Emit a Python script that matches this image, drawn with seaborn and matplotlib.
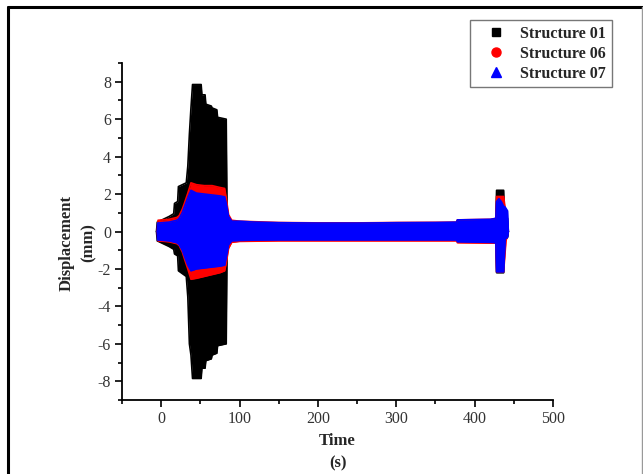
import matplotlib
matplotlib.use("Agg")
import matplotlib.pyplot as plt
from matplotlib.lines import Line2D
from matplotlib.ticker import AutoMinorLocator, FixedLocator
import seaborn as sns
import pandas as pd

# ---- data (envelopes of the dense oscillating records) ----
series_names = ["Structure 01", "Structure 06", "Structure 07"]
series_colors = ["#000000", "#ff0000", "#0000ff"]
series_markers = ["s", "o", "^"]

t_s01 = [-6, -5, 0, 10, 16, 17, 21, 22, 32, 34, 36, 38, 40, 51, 52, 56, 57, 64, 65, 71, 72,
         83, 84, 86, 90, 100, 150, 200, 250, 300, 350, 377, 378, 420, 427, 428, 437, 438, 442, 443]
up_s01 = [0, 0.5, 0.6, 0.8, 0.95, 1.5, 1.6, 2.4, 2.6, 3.5, 5.2, 6.6, 7.85, 7.85, 7.3, 7.3, 6.8, 6.7, 6.6, 6.5, 6.1,
          6.0, 1.2, 0.7, 0.55, 0.5, 0.44, 0.42, 0.42, 0.44, 0.45, 0.47, 0.58, 0.6, 0.65, 2.2, 2.2, 0.9, 0.7, 0]
lo_s01 = [0, -0.5, -0.6, -0.8, -0.95, -1.2, -1.3, -2.1, -2.4, -3.5, -6.0, -6.6, -7.85, -7.85, -7.3, -7.3, -6.9, -6.8, -6.6, -6.5, -6.1,
          -6.0, -1.2, -0.7, -0.5, -0.45, -0.42, -0.42, -0.42, -0.42, -0.42, -0.42, -0.5, -0.53, -0.55, -2.2, -2.2, -0.5, -0.3, 0]

t_s06 = [-5, -4, 10, 20, 23, 27, 30, 34, 38, 45, 55, 65, 75, 81, 83, 86, 90, 100, 150, 200, 250, 300,
         350, 377, 378, 420, 427, 428, 437, 440, 443]
up_s06 = [0, 0.6, 0.65, 0.75, 0.85, 1.2, 1.55, 2.05, 2.6, 2.5, 2.45, 2.45, 2.35, 2.3, 1.8, 0.9, 0.6, 0.55, 0.48, 0.46, 0.46, 0.48,
          0.49, 0.5, 0.62, 0.65, 0.7, 1.87, 1.87, 0.9, 0]
lo_s06 = [0, -0.5, -0.55, -0.65, -0.75, -1.1, -1.5, -2.0, -2.55, -2.5, -2.4, -2.3, -2.2, -2.1, -1.7, -0.9, -0.58, -0.53, -0.5, -0.5, -0.5, -0.5,
          -0.5, -0.5, -0.6, -0.62, -0.62, -2.15, -2.15, -0.5, 0]

t_s07 = [-5, -4.5, 10, 20, 23, 27, 30, 34, 38, 45, 55, 65, 75, 81, 83, 86, 90, 100, 120, 150, 200, 250,
         300, 350, 377, 378, 420, 427, 428, 431, 434, 437, 439, 442, 443]
up_s07 = [0, 0.45, 0.5, 0.6, 0.7, 1.0, 1.35, 1.8, 2.2, 2.05, 2.0, 1.95, 1.9, 1.85, 1.5, 0.8, 0.55, 0.55, 0.5, 0.47, 0.45, 0.45,
          0.47, 0.48, 0.5, 0.62, 0.65, 0.7, 1.6, 1.75, 1.6, 1.35, 1.3, 1.1, 0]
lo_s07 = [0, -0.45, -0.5, -0.6, -0.7, -1.0, -1.35, -1.8, -2.1, -2.0, -1.95, -1.9, -1.85, -1.8, -1.4, -0.7, -0.5, -0.48, -0.46, -0.45, -0.45, -0.45,
          -0.45, -0.45, -0.45, -0.55, -0.58, -0.6, -2.15, -2.15, -2.15, -2.15, -0.4, -0.3, 0]

x_ticks = [0, 100, 200, 300, 400, 500]
y_ticks = [-8, -6, -4, -2, 0, 2, 4, 6, 8]
x_label = "Time\n(s)"
y_label = "Displacement\n(mm)"

# ---- style ----
sns.set_style("ticks")
plt.rcParams["font.family"] = ["Liberation Serif", "DejaVu Serif"]

W, H = 643, 474
fig = plt.figure(figsize=(W / 100, H / 100), dpi=100)
ax = fig.add_axes([122 / W, 1 - 400 / H, (553 - 122) / W, (400 - 63) / H])

envelopes = [(t_s01, up_s01, lo_s01), (t_s06, up_s06, lo_s06), (t_s07, up_s07, lo_s07)]
for i, (name, color, (t, up, lo)) in enumerate(zip(series_names, series_colors, envelopes)):
    ax.fill_between(t, lo, up, color=color, lw=0, zorder=2 + 2 * i)
    df = pd.DataFrame({"t": list(t) + list(t), "v": list(up) + list(lo),
                       "edge": ["up"] * len(t) + ["lo"] * len(t)})
    sns.lineplot(data=df, x="t", y="v", units="edge", estimator=None, sort=False,
                 color=color, lw=1.2, ax=ax, legend=False, zorder=3 + 2 * i)

ax.set_xlim(-50, 500)
ax.set_ylim(-9, 9)
ax.xaxis.set_major_locator(FixedLocator(x_ticks))
ax.yaxis.set_major_locator(FixedLocator(y_ticks))
ax.xaxis.set_minor_locator(AutoMinorLocator(2))
ax.yaxis.set_minor_locator(AutoMinorLocator(2))
ax.set_xticklabels([str(v) for v in x_ticks])
ax.set_yticklabels([str(v) for v in y_ticks])
ax.tick_params(which="major", direction="out", length=5, width=1.2, labelsize=11.5,
               labelcolor="#333333", color="black", pad=3)
ax.tick_params(which="minor", direction="out", length=3, width=1.2, color="black")
sns.despine(ax=ax)
for s in ("left", "bottom"):
    ax.spines[s].set_linewidth(1.3)
    ax.spines[s].set_color("black")

ax.set_xlabel(x_label, fontsize=12, fontweight="bold", linespacing=1.5)
ax.set_ylabel(y_label, fontsize=12, fontweight="bold", linespacing=1.5)
ax.xaxis.set_label_coords(0.5, (400 - 433) / 337, transform=ax.transAxes)
ax.yaxis.set_label_coords((97 - 122) / 431, (400 - 243) / 337, transform=ax.transAxes)

handles = [Line2D([], [], ls="none", marker=m, color=c, markersize=ms)
           for m, c, ms in zip(series_markers, series_colors, [5.5, 6.5, 6.5])]
leg = fig.legend(handles, series_names, loc="upper right",
                 bbox_to_anchor=(611.7 / W, 1 - 20 / H), bbox_transform=fig.transFigure,
                 prop={"weight": "bold", "size": 11.5}, frameon=True, fancybox=False,
                 borderpad=0.35, handlelength=2.6, handletextpad=0.2, labelspacing=0.25,
                 borderaxespad=0)
leg.get_frame().set_edgecolor("#555555")
leg.get_frame().set_linewidth(1.0)

# figure border
fig.add_artist(Line2D([8 / W, 8 / W], [0, 1 - 7 / H], transform=fig.transFigure, color="black", lw=2.2))
fig.add_artist(Line2D([8 / W, 641.5 / W], [1 - 7 / H, 1 - 7 / H], transform=fig.transFigure, color="black", lw=2.2))
fig.add_artist(Line2D([641.5 / W, 641.5 / W], [0, 1 - 7 / H], transform=fig.transFigure, color="#999999", lw=1.0))

fig.savefig("out.png", dpi=100)
